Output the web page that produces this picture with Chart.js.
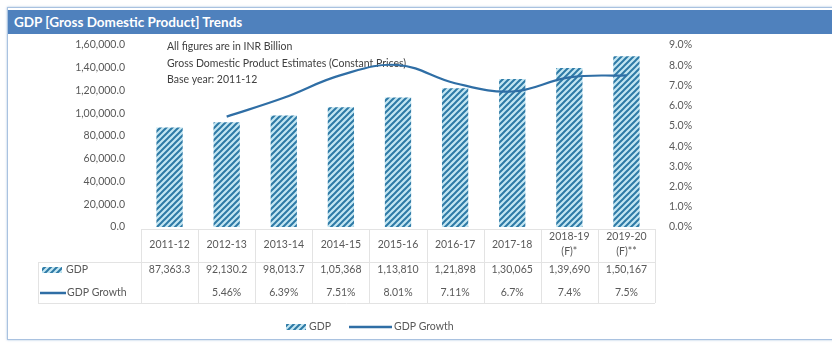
<!DOCTYPE html>
<html lang="en">
<head>
  <meta charset="UTF-8">
  <title>GDP Trends</title>
  <script src="https://cdn.jsdelivr.net/npm/chart.js"></script>
  <style>
    body {
      margin: 0;
      background: #ffffff;
      font-family: Lato, "Open Sans", sans-serif;
    }
    .frame {
      position: absolute;
      left: 7px;
      top: 7px;
      width: 830px;
      height: 331px;
      border: 1px solid #a9c2e0;
      box-shadow: 0 0 2px rgba(79, 129, 189, 0.5);
    }
    .title-bar {
      position: absolute;
      left: 0;
      top: 2px;
      right: 0;
      height: 24px;
      background: #4f81bd;
      color: #ffffff;
      font-weight: bold;
      font-size: 13.5px;
      line-height: 24px;
      padding-left: 6px;
    }
    #gdpChart {
      position: absolute;
      left: 0;
      top: 24px;
    }
  </style>
</head>
<body>
  <div class="frame">
    <div class="title-bar">GDP [Gross Domestic Product] Trends</div>
  </div>
  <canvas id="gdpChart" width="832" height="310"></canvas>

  <script>
    // Fiscal years; a second line holds the forecast marker
    const years = ['2011-12', '2012-13', '2013-14', '2014-15', '2015-16', '2016-17', '2017-18', '2018-19', '2019-20'];
    const yearNotes = ['', '', '', '', '', '', '', '(F)*', '(F)**'];

    // GDP in INR billion (constant prices)
    const gdp = [87363.3, 92130.2, 98013.7, 105368, 113810, 121898, 130065, 139690, 150167];
    // Year-on-year growth, percent
    const gdpGrowth = [null, 5.46, 6.39, 7.51, 8.01, 7.11, 6.7, 7.4, 7.5];

    const notes = [
      'All figures are in INR Billion',
      'Gross Domestic Product Estimates (Constant Prices)',
      'Base year: 2011-12'
    ];

    const textColor = '#595959';
    const lineColor = '#2f6ea5';
    const tableLine = '#e3e3e3';
    const font = 'Lato, "Open Sans", sans-serif';

    // Indian digit grouping: 1,60,000.0
    function inr(v, decimals) {
      const fixed = v.toFixed(decimals);
      let [intPart, frac] = fixed.split('.');
      let last3 = intPart.slice(-3);
      let rest = intPart.slice(0, -3);
      if (rest) {
        rest = rest.replace(/\B(?=(\d{2})+(?!\d))/g, ',');
        last3 = rest + ',' + last3;
      }
      return frac !== undefined ? last3 + '.' + frac : last3;
    }
    function gdpLabel(v) {
      return Number.isInteger(v) ? inr(v, 0) : inr(v, 1);
    }

    // diagonal hatch used for the GDP bars
    function makeHatch() {
      const size = 6;
      const c = document.createElement('canvas');
      c.width = size;
      c.height = size;
      const g = c.getContext('2d');
      g.fillStyle = '#c3e6f2';
      g.fillRect(0, 0, size, size);
      g.strokeStyle = '#2e7aa6';
      g.lineWidth = 2;
      g.beginPath();
      g.moveTo(-1, size + 1); g.lineTo(size + 1, -1);
      g.moveTo(-1, 1); g.lineTo(1, -1);
      g.moveTo(size - 1, size + 1); g.lineTo(size + 1, size - 1);
      g.stroke();
      return g.createPattern(c, 'repeat');
    }

    const ctx = document.getElementById('gdpChart').getContext('2d');
    const hatch = makeHatch();

    // notes box, data table under the plot and the bottom legend
    const extras = {
      id: 'extras',
      beforeDatasetsDraw(chart) {
        const c = chart.ctx;
        const area = chart.chartArea;
        c.save();
        c.fillStyle = '#404040';
        c.font = '10.5px ' + font;
        c.textBaseline = 'middle';
        c.textAlign = 'left';
        notes.forEach((t, i) => c.fillText(t, area.left + 26, area.top + 2 + i * 16.5));
        c.restore();
      },
      afterDraw(chart) {
        const c = chart.ctx;
        const area = chart.chartArea;
        const x = chart.scales.x;
        const step = x.getPixelForValue(1) - x.getPixelForValue(0);
        const tableLeft = 38;
        const top = area.bottom + 2;
        const headBottom = area.bottom + 35;
        const rowGdp = area.bottom + 43;
        const rowGrowth = area.bottom + 66;
        const tableBottom = area.bottom + 76;

        c.save();
        // grid of the table
        c.strokeStyle = tableLine;
        c.lineWidth = 1;
        c.beginPath();
        c.moveTo(area.left, top + 0.5); c.lineTo(area.right, top + 0.5);
        c.moveTo(tableLeft, headBottom + 0.5); c.lineTo(area.right, headBottom + 0.5);
        c.moveTo(tableLeft, tableBottom + 0.5); c.lineTo(area.right, tableBottom + 0.5);
        for (let i = 0; i <= years.length; i++) {
          const px = Math.round(area.left + i * step) + 0.5;
          c.moveTo(px, top); c.lineTo(px, tableBottom);
        }
        c.moveTo(tableLeft + 0.5, headBottom); c.lineTo(tableLeft + 0.5, tableBottom);
        c.stroke();

        c.fillStyle = textColor;
        c.font = '10.5px ' + font;
        c.textAlign = 'center';
        c.textBaseline = 'middle';
        years.forEach((y, i) => {
          const px = x.getPixelForValue(i);
          if (yearNotes[i]) {
            c.fillText(y, px, area.bottom + 10);
            c.fillText(yearNotes[i], px, area.bottom + 25);
          } else {
            c.fillText(y, px, area.bottom + 18);
          }
          c.fillText(gdpLabel(gdp[i]), px, rowGdp);
          if (gdpGrowth[i] !== null) c.fillText(String(gdpGrowth[i]) + '%', px, rowGrowth);
        });

        // series keys in the table
        c.textAlign = 'left';
        c.fillStyle = hatch;
        c.fillRect(42, rowGdp - 3, 20, 6);
        c.fillStyle = textColor;
        c.fillText('GDP', 66, rowGdp);
        c.strokeStyle = lineColor;
        c.lineWidth = 2.5;
        c.beginPath();
        c.moveTo(40, rowGrowth); c.lineTo(66, rowGrowth);
        c.stroke();
        c.fillText('GDP Growth', 67, rowGrowth);

        // bottom legend
        const ly = area.bottom + 100;
        c.fillStyle = hatch;
        c.fillRect(286, ly - 3, 20, 6);
        c.fillStyle = textColor;
        c.fillText('GDP', 309, ly);
        c.beginPath();
        c.moveTo(349, ly); c.lineTo(392, ly);
        c.stroke();
        c.fillText('GDP Growth', 394, ly);
        c.restore();
      }
    };

    new Chart(ctx, {
      data: {
        labels: years,
        datasets: [
          {
            type: 'line',
            label: 'GDP Growth',
            data: gdpGrowth,
            yAxisID: 'y1',
            borderColor: lineColor,
            borderWidth: 2.2,
            tension: 0.4,
            pointRadius: 0,
            fill: false,
            order: 0
          },
          {
            type: 'bar',
            label: 'GDP',
            data: gdp,
            yAxisID: 'y',
            backgroundColor: hatch,
            borderWidth: 0,
            categoryPercentage: 1,
            barPercentage: 0.46,
            order: 1
          }
        ]
      },
      options: {
        responsive: false,
        animation: false,
        devicePixelRatio: 1,
        layout: { padding: { top: 21, bottom: 107, left: 0, right: 0 } },
        plugins: {
          legend: { display: false },
          tooltip: { enabled: false }
        },
        scales: {
          x: { display: false, offset: true },
          y: {
            position: 'left',
            min: 0,
            max: 160000,
            ticks: {
              stepSize: 20000,
              color: textColor,
              padding: 8,
              font: { family: font, size: 10.5 },
              callback: v => inr(v, 1)
            },
            grid: { display: false },
            border: { display: false },
            afterFit: s => { s.width = 141; }
          },
          y1: {
            position: 'right',
            min: 0,
            max: 9,
            ticks: {
              stepSize: 1,
              color: textColor,
              padding: 6,
              font: { family: font, size: 10.5 },
              callback: v => v.toFixed(1) + '%'
            },
            grid: { display: false },
            border: { display: false },
            afterFit: s => { s.width = 177; }
          }
        }
      },
      plugins: [extras]
    });
  </script>
</body>
</html>
